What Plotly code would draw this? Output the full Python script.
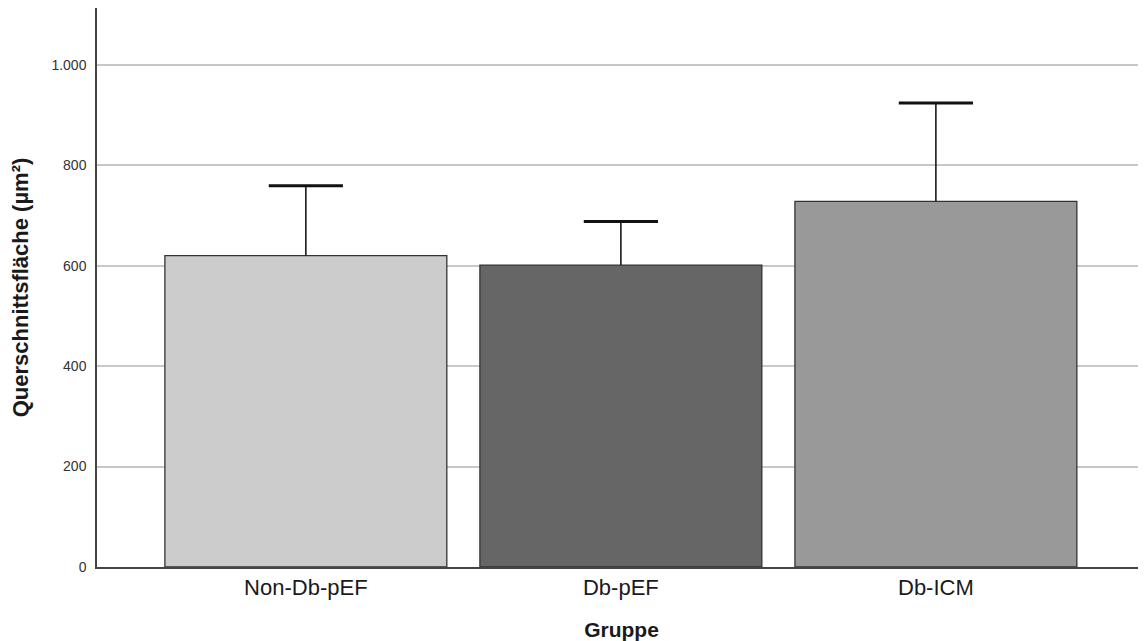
import plotly.graph_objects as go

categories = ["Non-Db-pEF", "Db-pEF", "Db-ICM"]
means = [620, 601, 728]
err_plus = [139, 87, 196]
bar_colors = ["#cccccc", "#666666", "#999999"]
y_ticks = [0, 200, 400, 600, 800, 1000]

FONT = "Liberation Sans, Arial, Helvetica, sans-serif"

fig = go.Figure()
fig.add_trace(go.Bar(
    x=categories,
    y=means,
    marker=dict(color=bar_colors, line=dict(color="#333333", width=1.3)),
    error_y=dict(type="data", symmetric=False, array=err_plus,
                 arrayminus=[0] * len(means), color="#1a1a1a",
                 thickness=1.6, width=0),
    width=0.895,
))
# thicker caps on top of the error bars
fig.add_trace(go.Scatter(
    x=categories,
    y=[m + e for m, e in zip(means, err_plus)],
    mode="markers",
    marker=dict(symbol="line-ew", size=53, line=dict(color="#111111", width=3)),
    hoverinfo="skip",
))

fig.update_layout(
    width=1138, height=633,
    margin=dict(l=89, r=0, t=0, b=74),
    paper_bgcolor="white", plot_bgcolor="white",
    separators=",.",
    showlegend=False,
    font=dict(family=FONT, color="#222222"),
    xaxis=dict(
        range=[-0.663, 2.667],
        showline=True, linecolor="#444444", linewidth=1.5,
        showgrid=False, ticks="",
        tickfont=dict(size=22, color="#1a1a1a"),
        title=dict(text="<b>Gruppe</b>", font=dict(size=21, color="#1a1a1a"), standoff=23),
    ),
    yaxis=dict(
        range=[0, 1113],
        tickvals=y_ticks,
        tickformat=",d",
        showline=True, linecolor="#444444", linewidth=1.5,
        showgrid=True, gridcolor="#c8c8c8", gridwidth=1.5,
        zeroline=False,
        ticks="", ticklabelstandoff=6,
        tickfont=dict(size=14, color="#333333"),
        title=dict(text="<b>Querschnittsfläche (µm²)</b>", font=dict(size=22, color="#1a1a1a"), standoff=17),
    ),
)

fig.write_html("out.html")
